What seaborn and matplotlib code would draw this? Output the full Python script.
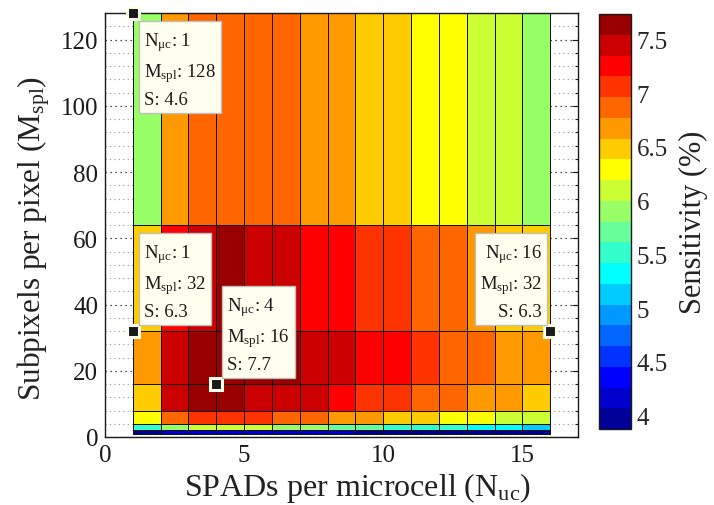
import numpy as np
import matplotlib
matplotlib.use("Agg")
import matplotlib.pyplot as plt
import seaborn as sns
from matplotlib.colors import ListedColormap, BoundaryNorm
from matplotlib.ticker import MultipleLocator, FixedLocator

# ---------------- data ----------------
N_uc = [1, 2, 3, 4, 5, 6, 7, 8, 9, 10, 11, 12, 13, 14, 15, 16]      # cell edges (x)
M_spl = [1, 2, 4, 8, 16, 32, 64, 128]                                  # cell edges (y)

# sensitivity (%) of each cell, rows from M_spl=1 (bottom) to M_spl=64 (top)
S_m1 = [3.92, 4.12, 4.18, 4.20, 4.17, 4.14, 4.11, 4.09, 4.05, 4.02, 4.00, 3.98, 3.96, 3.94, 3.90]
S_m2 = [5.50, 5.92, 6.05, 6.10, 6.04, 5.95, 5.86, 5.76, 5.66, 5.58, 5.50, 5.45, 5.38, 5.30, 5.20]
S_m4 = [6.30, 6.90, 7.05, 7.10, 7.02, 6.94, 6.85, 6.72, 6.62, 6.52, 6.42, 6.34, 6.25, 6.15, 6.05]
S_m8 = [6.50, 7.42, 7.60, 7.62, 7.52, 7.45, 7.40, 7.25, 7.12, 7.02, 6.90, 6.80, 6.70, 6.62, 6.48]
S_m16 = [6.70, 7.48, 7.65, 7.70, 7.66, 7.58, 7.50, 7.40, 7.30, 7.20, 7.08, 6.93, 6.85, 6.74, 6.62]
S_m32 = [6.45, 7.30, 7.48, 7.60, 7.50, 7.42, 7.30, 7.20, 7.10, 7.00, 6.92, 6.82, 6.70, 6.52, 6.45]
S_m64 = [5.92, 6.62, 6.85, 6.92, 6.93, 6.88, 6.72, 6.66, 6.52, 6.44, 6.33, 6.22, 6.13, 6.02, 5.90]

# data tips
tip_N = [1, 1, 4, 16]
tip_M = [128, 32, 16, 32]
tip_S = ["4.6", "6.3", "7.7", "6.3"]

x_ticks = [0, 5, 10, 15]
y_ticks = [0, 20, 40, 60, 80, 100, 120]
cb_ticks = [4, 4.5, 5, 5.5, 6, 6.5, 7, 7.5]
cb_ticklabels = ["4", "4.5", "5", "5.5", "6", "6.5", "7", "7.5"]
c_min, c_max = 3.876, 7.736

# ---------------- style ----------------
sns.set_theme(style="white")
serif = "Liberation Serif"
plt.rcParams["font.family"] = [serif, "DejaVu Serif"]
plt.rcParams["mathtext.fontset"] = "custom"
plt.rcParams["mathtext.rm"] = serif
plt.rcParams["mathtext.it"] = serif + ":italic"
plt.rcParams["mathtext.bf"] = serif + ":bold"

jet20 = ["#000099", "#0000CC", "#0000FF", "#0033FF", "#0066FF", "#0099FF", "#00CCFF",
         "#00FFFF", "#33FFCC", "#66FF99", "#99FF66", "#CCFF33", "#FFFF00", "#FFCC00",
         "#FF9900", "#FF6600", "#FF3300", "#FF0000", "#CC0000", "#990000"]
cmap = ListedColormap(jet20)
norm = BoundaryNorm(np.linspace(c_min, c_max, len(jet20) + 1), len(jet20))

S = np.array([S_m1, S_m2, S_m4, S_m8, S_m16, S_m32, S_m64])

fig = plt.figure(figsize=(7.14, 5.06), dpi=100)
W, H = 714.0, 506.0
ax = fig.add_axes([105 / W, (H - 438) / H, (578 - 105) / W, (438 - 14) / H])
cax = fig.add_axes([599 / W, (H - 430) / H, 32 / W, 415 / H])

mesh = ax.pcolormesh(N_uc, M_spl, S, cmap=cmap, norm=norm,
                     edgecolors="#111111", linewidth=0.6, zorder=1)

ax.set_xlim(0, 17)
ax.set_ylim(0, 128)

# dotted grid (beneath the surface)
for yv in np.arange(0, 129, 4):
    major = (yv % 20 == 0)
    ax.axhline(yv, color="k" if major else "0.6", lw=0.9 if major else 0.8,
               ls=(0, (1, 3)), zorder=0.5)

ax.xaxis.set_major_locator(FixedLocator(x_ticks))
ax.yaxis.set_major_locator(FixedLocator(y_ticks))
ax.xaxis.set_minor_locator(MultipleLocator(1))
ax.yaxis.set_minor_locator(MultipleLocator(4))
ax.tick_params(which="both", direction="in", top=True, right=True, colors="k",
               labelsize=18, width=0.8)
ax.tick_params(which="major", length=4.5, pad=5)
ax.tick_params(which="minor", length=2.2)
for sp in ax.spines.values():
    sp.set_color("k")
    sp.set_linewidth(1.0)

ax.set_xlabel("SPADs per microcell (N$_\\mathrm{uc}$)", fontsize=23, color="#222222")
ax.set_ylabel("Subpixels per pixel (M$_\\mathrm{spl}$)", fontsize=22.5, color="#222222")
ax.xaxis.set_label_coords(0.533, -0.078)
ax.yaxis.set_label_coords(-0.112, 0.47)

# colorbar
cb = fig.colorbar(mesh, cax=cax, ticks=cb_ticks)
cb.ax.set_yticklabels(cb_ticklabels)
cb.ax.tick_params(direction="in", left=True, right=True, labelsize=18, length=4.5, width=0.8, pad=4)
cb.ax.minorticks_off()
cb.outline.set_edgecolor("k")
cb.outline.set_linewidth(1.0)
cb.set_label("Sensitivity (%)", fontsize=22, labelpad=8, color="#222222")

# data tips
pt = 72.0 / 100.0   # points per pixel
tip_fs = 13.5
pad_px = 5
placements = [("left", "top", 6, -12), ("left", "bottom", 6, 6),
              ("left", "bottom", 6, 6), ("right", "bottom", -3, 6)]
for n, m, s, (ha, va, dx, dy) in zip(tip_N, tip_M, tip_S, placements):
    ax.plot([n], [m], marker="s", ms=8.5, mfc="k", mec="#FFFFF0", mew=2.2,
            ls="none", zorder=6, clip_on=False)
    sx = 1 if dx > 0 else -1
    sy = 1 if dy > 0 else -1
    txt = ("N$_\\mathrm{\u03bcc}$: %d\nM$_\\mathrm{spl}$: %d\nS: %s" % (n, m, s))
    ax.annotate(txt, xy=(n, m), xycoords="data",
                xytext=((dx + sx * pad_px) * pt, (dy + sy * pad_px) * pt),
                textcoords="offset points", ha=ha, va=va, fontsize=tip_fs,
                color="k", linespacing=1.55, zorder=7,
                bbox=dict(boxstyle="square,pad=%.3f" % (pad_px * pt / tip_fs),
                          fc="#FFFFF0", ec="#BDBDBD", lw=1.0))

fig.savefig("out.png", dpi=100)
